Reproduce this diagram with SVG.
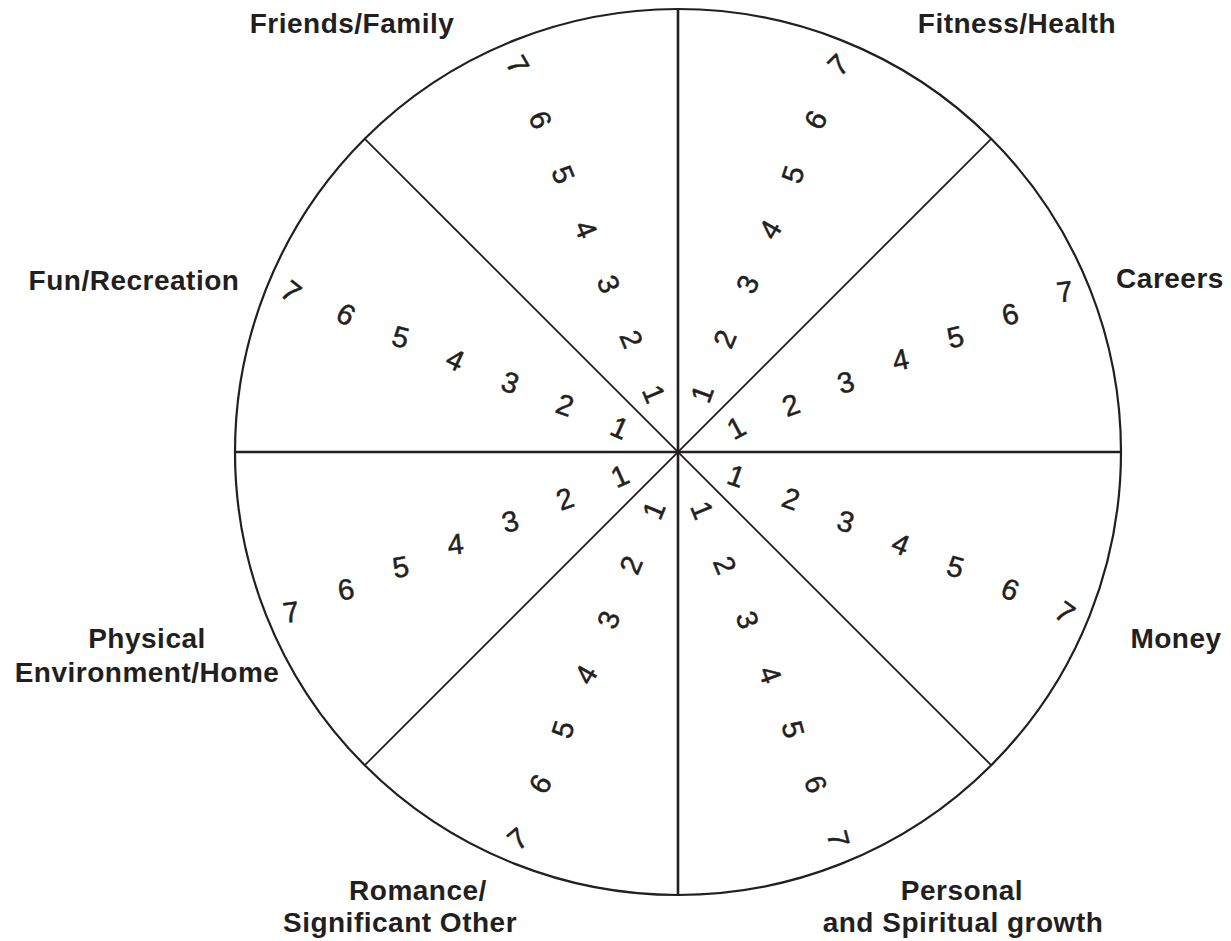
<svg xmlns="http://www.w3.org/2000/svg" width="1231" height="941" viewBox="0 0 1231 941">
<style>
.lbl{font-family:"Liberation Sans",Arial,sans-serif;font-weight:bold;font-size:28px;letter-spacing:0.5px;fill:#231f20;text-anchor:middle}
.n{font-family:"Liberation Sans",Arial,sans-serif;font-size:29px;fill:#231f20;stroke:#231f20;stroke-width:0.5;text-anchor:middle}
.spk{stroke:#231f20;fill:none}
</style>
<rect width="1231" height="941" fill="#ffffff"/>
<g id="wheel">
<circle cx="678" cy="452" r="443" class="spk" stroke-width="2.2"/>
<line x1="678" y1="9" x2="678" y2="895" class="spk" stroke-width="2.6"/>
<line x1="235" y1="452" x2="1121" y2="452" class="spk" stroke-width="2.6"/>
<line x1="364.8" y1="138.8" x2="991.2" y2="765.2" class="spk" stroke-width="1.8"/>
<line x1="991.2" y1="138.8" x2="364.8" y2="765.2" class="spk" stroke-width="1.8"/>
</g>
<g id="friends-family">
<text class="lbl" x="352" y="33">Friends/Family</text>
<text class="n" y="10" transform="translate(653.9 393.8) rotate(67.5)">1</text>
<text class="n" y="10" transform="translate(631.2 339.0) rotate(67.5)">2</text>
<text class="n" y="10" transform="translate(608.5 284.2) rotate(67.5)">3</text>
<text class="n" y="10" transform="translate(585.8 229.4) rotate(67.5)">4</text>
<text class="n" y="10" transform="translate(563.1 174.6) rotate(67.5)">5</text>
<text class="n" y="10" transform="translate(540.4 119.9) rotate(67.5)">6</text>
<text class="n" y="10" transform="translate(517.7 65.1) rotate(60)">7</text>
</g>
<g id="fitness-health">
<text class="lbl" x="1017" y="33">Fitness/Health</text>
<text class="n" y="10" transform="translate(702.1 393.8) rotate(-70)">1</text>
<text class="n" y="10" transform="translate(724.8 339.0) rotate(-67.5)">2</text>
<text class="n" y="10" transform="translate(747.5 284.2) rotate(-65)">3</text>
<text class="n" y="10" transform="translate(770.2 229.4) rotate(-60)">4</text>
<text class="n" y="10" transform="translate(792.9 174.6) rotate(-72)">5</text>
<text class="n" y="10" transform="translate(815.6 119.9) rotate(-62)">6</text>
<text class="n" y="10" transform="translate(838.3 65.1) rotate(-45)">7</text>
</g>
<g id="careers">
<text class="lbl" x="1170" y="288">Careers</text>
<text class="n" y="10" transform="translate(736.2 427.9) rotate(-28)">1</text>
<text class="n" y="10" transform="translate(791.0 405.2) rotate(-20)">2</text>
<text class="n" y="10" transform="translate(845.8 382.5) rotate(-16)">3</text>
<text class="n" y="10" transform="translate(900.6 359.8) rotate(-12)">4</text>
<text class="n" y="10" transform="translate(955.4 337.1) rotate(-14)">5</text>
<text class="n" y="10" transform="translate(1010.1 314.4) rotate(-14)">6</text>
<text class="n" y="10" transform="translate(1064.9 291.7) rotate(-8)">7</text>
</g>
<g id="money">
<text class="lbl" x="1176" y="648">Money</text>
<text class="n" y="10" transform="translate(736.2 476.1) rotate(20)">1</text>
<text class="n" y="10" transform="translate(791.0 498.8) rotate(20)">2</text>
<text class="n" y="10" transform="translate(845.8 521.5) rotate(16)">3</text>
<text class="n" y="10" transform="translate(900.6 544.2) rotate(22)">4</text>
<text class="n" y="10" transform="translate(955.4 566.9) rotate(16)">5</text>
<text class="n" y="10" transform="translate(1010.1 589.6) rotate(22)">6</text>
<text class="n" y="10" transform="translate(1064.9 612.3) rotate(36)">7</text>
</g>
<g id="personal-spiritual">
<text class="lbl" x="962" y="900">Personal</text>
<text class="lbl" x="963" y="932">and Spiritual growth</text>
<text class="n" y="10" transform="translate(702.1 510.2) rotate(67.5)">1</text>
<text class="n" y="10" transform="translate(724.8 565.0) rotate(67.5)">2</text>
<text class="n" y="10" transform="translate(747.5 619.8) rotate(70)">3</text>
<text class="n" y="10" transform="translate(770.2 674.6) rotate(70)">4</text>
<text class="n" y="10" transform="translate(792.9 729.4) rotate(75)">5</text>
<text class="n" y="10" transform="translate(815.6 784.1) rotate(70)">6</text>
<text class="n" y="10" transform="translate(838.3 838.9) rotate(75)">7</text>
</g>
<g id="romance">
<text class="lbl" x="418" y="900">Romance/</text>
<text class="lbl" x="400" y="932">Significant Other</text>
<text class="n" y="10" transform="translate(653.9 510.2) rotate(-67.5)">1</text>
<text class="n" y="10" transform="translate(631.2 565.0) rotate(-67.5)">2</text>
<text class="n" y="10" transform="translate(608.5 619.8) rotate(-70)">3</text>
<text class="n" y="10" transform="translate(585.8 674.6) rotate(-60)">4</text>
<text class="n" y="10" transform="translate(563.1 729.4) rotate(-72)">5</text>
<text class="n" y="10" transform="translate(540.4 784.1) rotate(-60)">6</text>
<text class="n" y="10" transform="translate(517.7 838.9) rotate(-40)">7</text>
</g>
<g id="physical-environment">
<text class="lbl" x="147" y="648">Physical</text>
<text class="lbl" x="147" y="682">Environment/Home</text>
<text class="n" y="10" transform="translate(619.8 476.1) rotate(-24)">1</text>
<text class="n" y="10" transform="translate(565.0 498.8) rotate(-20)">2</text>
<text class="n" y="10" transform="translate(510.2 521.5) rotate(-15)">3</text>
<text class="n" y="10" transform="translate(455.4 544.2) rotate(-6)">4</text>
<text class="n" y="10" transform="translate(400.6 566.9) rotate(-10)">5</text>
<text class="n" y="10" transform="translate(345.9 589.6) rotate(-10)">6</text>
<text class="n" y="10" transform="translate(291.1 612.3) rotate(-8)">7</text>
</g>
<g id="fun-recreation">
<text class="lbl" x="134" y="290">Fun/Recreation</text>
<text class="n" y="10" transform="translate(619.8 427.9) rotate(24)">1</text>
<text class="n" y="10" transform="translate(565.0 405.2) rotate(20)">2</text>
<text class="n" y="10" transform="translate(510.2 382.5) rotate(20)">3</text>
<text class="n" y="10" transform="translate(455.4 359.8) rotate(25)">4</text>
<text class="n" y="10" transform="translate(400.6 337.1) rotate(15)">5</text>
<text class="n" y="10" transform="translate(345.9 314.4) rotate(30)">6</text>
<text class="n" y="10" transform="translate(291.1 291.7) rotate(38)">7</text>
</g>
</svg>
